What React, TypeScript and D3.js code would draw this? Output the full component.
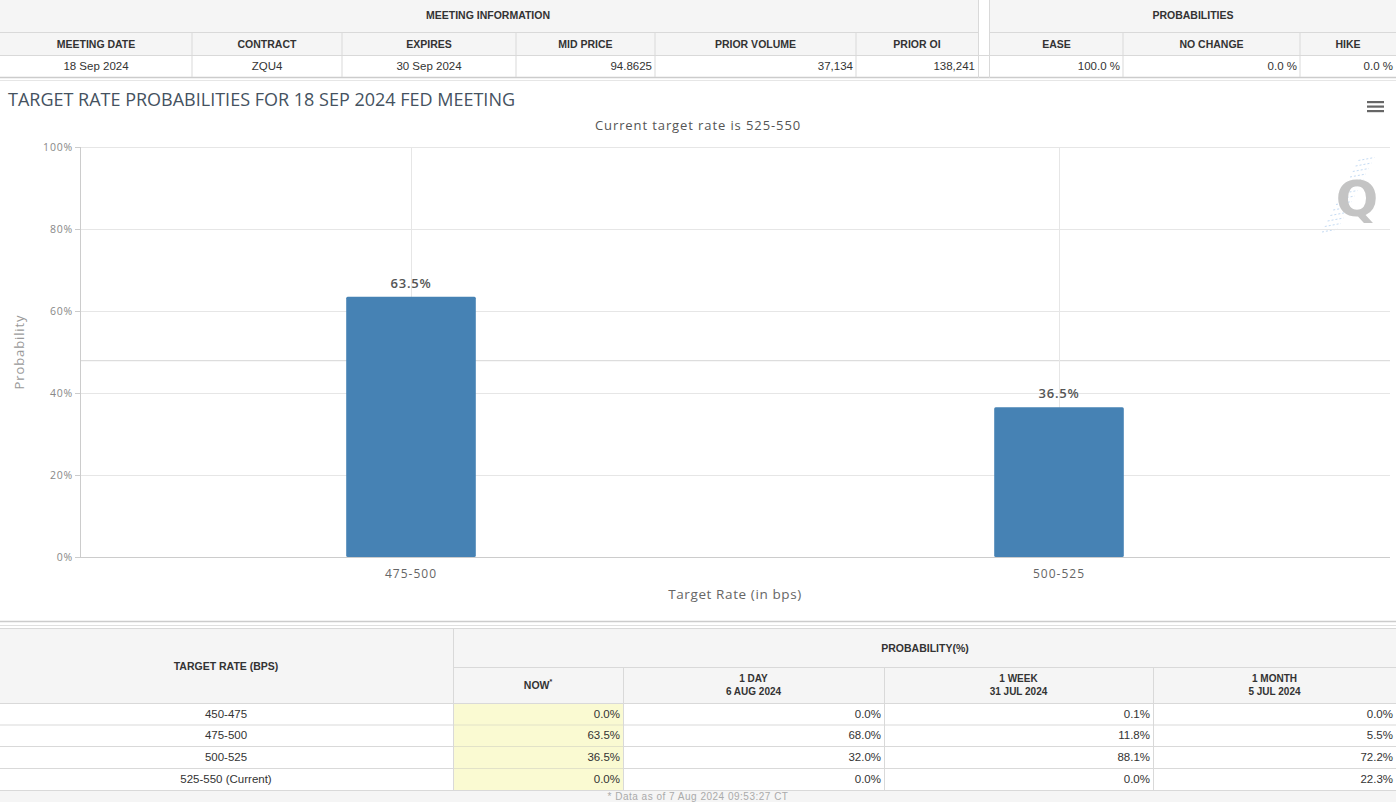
import React from 'react'
import * as d3 from 'd3'

// chart values
const categories = ['475-500', '500-525']
const probabilities = [63.5, 36.5]
const yTicks = [0, 20, 40, 60, 80, 100]
const chartTitle = 'TARGET RATE PROBABILITIES FOR 18 SEP 2024 FED MEETING'
const chartSubtitle = 'Current target rate is 525-550'

// top table
const meetingHeaders = ['MEETING DATE', 'CONTRACT', 'EXPIRES', 'MID PRICE', 'PRIOR VOLUME', 'PRIOR OI']
const meetingValues = ['18 Sep 2024', 'ZQU4', '30 Sep 2024', '94.8625', '37,134', '138,241']
const probHeaders = ['EASE', 'NO CHANGE', 'HIKE']
const probValues = ['100.0 %', '0.0 %', '0.0 %']

// bottom table
const rateRows = ['450-475', '475-500', '500-525', '525-550 (Current)']
const periodHeaders = [['NOW'], ['1 DAY', '6 AUG 2024'], ['1 WEEK', '31 JUL 2024'], ['1 MONTH', '5 JUL 2024']]
const nowValues = ['0.0%', '63.5%', '36.5%', '0.0%']
const dayValues = ['0.0%', '68.0%', '32.0%', '0.0%']
const weekValues = ['0.1%', '11.8%', '88.1%', '0.0%']
const monthValues = ['0.0%', '5.5%', '72.2%', '22.3%']
const footnote = '* Data as of 7 Aug 2024 09:53:27 CT'

const W = 1396
const H = 802
const tblFont = 'Arial, "Liberation Sans", sans-serif'
const chartFont = '"Open Sans", "DejaVu Sans", sans-serif'
const border = '#d9d9d9'
const headBg = '#f5f5f5'
const headSize = 10.5
const cellSize = 11.5

// column edges (layout)
const meetingEdges = [0, 192, 342, 516, 655, 856, 978]
const probEdges = [990, 1123, 1300, 1396]
const meetingAlign = ['middle', 'middle', 'middle', 'end', 'end', 'end']
const bottomEdges = [453, 623, 884, 1153, 1396]
const rowTops = [703, 724.5, 746, 768, 790]

const TopTable = () => {
  const cells = (edges: number[], heads: string[], vals: string[], aligns: string[]) =>
    heads.map((h, i) => {
      const x0 = edges[i], x1 = edges[i + 1]
      const a = aligns[i]
      const tx = a === 'middle' ? (x0 + x1) / 2 : x1 - 3
      return (
        <g key={h}>
          <text x={(x0 + x1) / 2} y={48} textAnchor="middle" fontSize={headSize} fontWeight="bold" fill="#333">{h}</text>
          <text x={tx} y={70} textAnchor={a} fontSize={cellSize} fill="#333">{vals[i]}</text>
          {i > 0 && <line x1={x0} x2={x0} y1={33} y2={77} stroke={border} />}
        </g>
      )
    })
  return (
    <g fontFamily={tblFont}>
      <rect x={0} y={0} width={W} height={56} fill={headBg} />
      <rect x={0} y={56} width={978} height={21} fill="#fff" />
      <rect x={990} y={56} width={406} height={21} fill="#fff" />
      <rect x={978} y={0} width={12} height={80} fill="#fff" />
      <line x1={0} x2={978} y1={32.5} y2={32.5} stroke={border} />
      <line x1={990} x2={W} y1={32.5} y2={32.5} stroke={border} />
      <line x1={0} x2={W} y1={55.5} y2={55.5} stroke={border} />
      <line x1={0} x2={W} y1={77.5} y2={77.5} stroke="#ccc" strokeWidth={1.5} />
      <line x1={0} x2={W} y1={80.5} y2={80.5} stroke="#e6e6e6" />
      <line x1={978.5} x2={978.5} y1={0} y2={78} stroke={border} />
      <line x1={989.5} x2={989.5} y1={0} y2={78} stroke={border} />
      <text x={488} y={19} textAnchor="middle" fontSize={headSize} fontWeight="bold" fill="#333">MEETING INFORMATION</text>
      <text x={1193} y={19} textAnchor="middle" fontSize={headSize} fontWeight="bold" fill="#333">PROBABILITIES</text>
      {cells(meetingEdges, meetingHeaders, meetingValues, meetingAlign)}
      {cells(probEdges, probHeaders, probValues, ['end', 'end', 'end'])}
    </g>
  )
}

const Chart = () => {
  const left = 80, right = 1390, top = 147, bottom = 557
  const y = d3.scaleLinear().domain([0, 100]).range([bottom, top])
  const x = d3.scaleBand().domain(categories).range([87, 1383]).paddingInner(0).paddingOuter(0)
  const barW = x.bandwidth() * 0.2
  const cx = (c: string) => (x(c) as number) + x.bandwidth() / 2
  return (
    <g fontFamily={chartFont}>
      <text x={8} y={106} fontSize={18} fill="#45525f">{chartTitle}</text>
      <text x={698} y={130} textAnchor="middle" fontSize={13} letterSpacing={0.9} fill="#555">{chartSubtitle}</text>
      {/* menu icon */}
      {[0, 1, 2].map(i => (
        <rect key={i} x={1367} y={101 + i * 4.5} width={17} height={2.2} fill="#666" />
      ))}
      {/* watermark */}
      <g opacity={0.6}>
        {d3.range(14).map(i => (
          <line key={i} x1={1322 + i * 2.8} x2={1338 + i * 2.8} y1={232 - i * 5.5} y2={229 - i * 5.5} stroke="#9fc4ec" strokeWidth={1} strokeDasharray="2 2" />
        ))}
      </g>
      <text x={1357} y={216} textAnchor="middle" fontSize={50} fontWeight="bold" fill="#c4c4c4" fontFamily='"DejaVu Sans", sans-serif'>Q</text>
      {/* grid */}
      {yTicks.map(t => (
        <g key={t}>
          <line x1={left} x2={right} y1={y(t) + 0.5} y2={y(t) + 0.5} stroke="#e6e6e6" />
          <line x1={left - 5} x2={left} y1={y(t) + 0.5} y2={y(t) + 0.5} stroke="#ccc" />
          <text x={left - 7} y={y(t) + 3.5} textAnchor="end" fontSize={10.5} letterSpacing={0.8} fill="#888">{t}%</text>
        </g>
      ))}
      <line x1={left} x2={right} y1={y(48) + 0.5} y2={y(48) + 0.5} stroke="#d6d6d6" />
      {categories.map(c => (
        <line key={c} x1={cx(c) + 0.5} x2={cx(c) + 0.5} y1={top} y2={bottom} stroke="#e6e6e6" />
      ))}
      <line x1={left + 0.5} x2={left + 0.5} y1={top} y2={bottom} stroke="#ccc" />
      <line x1={left} x2={right} y1={bottom + 0.5} y2={bottom + 0.5} stroke="#ccc" />
      {/* bars */}
      {categories.map((c, i) => (
        <g key={c}>
          <rect x={cx(c) - barW / 2} y={y(probabilities[i])} width={barW} height={bottom - y(probabilities[i])} rx={1.5} fill="#4682b4" />
          <text x={cx(c)} y={y(probabilities[i]) - 9} textAnchor="middle" fontSize={13} letterSpacing={0.8} fontWeight="600" fill="#555">{probabilities[i].toFixed(1)}%</text>
          <text x={cx(c)} y={bottom + 21} textAnchor="middle" fontSize={12} letterSpacing={1} fill="#666">{c}</text>
        </g>
      ))}
      <text x={(left + right) / 2} y={599} textAnchor="middle" fontSize={13.5} letterSpacing={0.6} fill="#666">Target Rate (in bps)</text>
      <text transform={`translate(24, ${(top + bottom) / 2}) rotate(-90)`} textAnchor="middle" fontSize={13} letterSpacing={0.9} fill="#999">Probability</text>
    </g>
  )
}

const BottomTable = () => {
  const cols = [nowValues, dayValues, weekValues, monthValues]
  return (
    <g fontFamily={tblFont}>
      <line x1={0} x2={W} y1={621.5} y2={621.5} stroke="#ccc" strokeWidth={1.5} />
      <line x1={0} x2={W} y1={625.5} y2={625.5} stroke="#e0e0e0" />
      <rect x={0} y={628} width={W} height={75} fill={headBg} />
      <rect x={0} y={790} width={W} height={12} fill={headBg} />
      <line x1={0} x2={W} y1={628.5} y2={628.5} stroke={border} />
      <line x1={453} x2={W} y1={667.5} y2={667.5} stroke={border} />
      {rowTops.map(t => (
        <line key={t} x1={0} x2={W} y1={t + 0.5} y2={t + 0.5} stroke={border} />
      ))}
      <line x1={453.5} x2={453.5} y1={628} y2={790} stroke={border} />
      {bottomEdges.slice(1, 4).map(e => (
        <line key={e} x1={e + 0.5} x2={e + 0.5} y1={667} y2={790} stroke={border} />
      ))}
      <text x={226} y={670} textAnchor="middle" fontSize={headSize} fontWeight="bold" fill="#333">TARGET RATE (BPS)</text>
      <text x={925} y={652} textAnchor="middle" fontSize={headSize} fontWeight="bold" fill="#333">PROBABILITY(%)</text>
      {periodHeaders.map((h, i) => {
        const mid = (bottomEdges[i] + bottomEdges[i + 1]) / 2
        return h.length === 1 ? (
          <text key={i} x={mid} y={689} textAnchor="middle" fontSize={headSize} fontWeight="bold" fill="#333">
            {h[0]}<tspan dy={-5} fontSize={7}>*</tspan>
          </text>
        ) : (
          <g key={i}>
            <text x={mid} y={682} textAnchor="middle" fontSize={10} fontWeight="bold" fill="#333">{h[0]}</text>
            <text x={mid} y={695} textAnchor="middle" fontSize={10} fontWeight="bold" fill="#333">{h[1]}</text>
          </g>
        )
      })}
      <rect x={454} y={704} width={169} height={86} fill="#fafad2" />
      {rowTops.slice(1, 4).map(t => (
        <line key={t} x1={454} x2={623} y1={t + 0.5} y2={t + 0.5} stroke="#e2e2c8" />
      ))}
      {rateRows.map((r, ri) => {
        const ty = (rowTops[ri] + rowTops[ri + 1]) / 2 + 4
        return (
          <g key={r}>
            <text x={226} y={ty} textAnchor="middle" fontSize={cellSize} fill="#333">{r}</text>
            {cols.map((col, ci) => (
              <text key={ci} x={bottomEdges[ci + 1] - 3} y={ty} textAnchor="end" fontSize={cellSize} fill="#333">{col[ri]}</text>
            ))}
          </g>
        )
      })}
      <text x={698} y={799.5} textAnchor="middle" fontSize={10} letterSpacing={0.5} fill="#aaa">{footnote}</text>
    </g>
  )
}

export default function App() {
  return (
    <svg width={W} height={H} style={{ position: 'absolute', left: 0, top: 0, background: '#fff' }}>
      <rect width={W} height={H} fill="#fff" />
      <TopTable />
      <Chart />
      <BottomTable />
    </svg>
  )
}
